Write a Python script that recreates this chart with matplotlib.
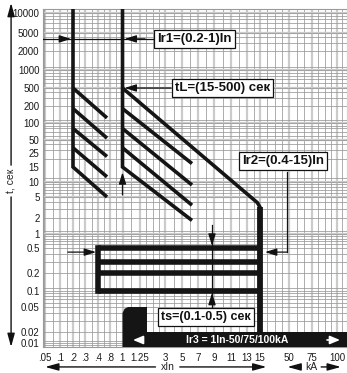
import numpy as np
import matplotlib
matplotlib.use('Agg')
import matplotlib.pyplot as plt

plt.rcParams['font.family'] = ['Liberation Sans', 'DejaVu Sans']

# printed scale of the chart: label values and where they sit (px from the axis origin)
x_vals = [0.04, .05, .1, .2, .3, .4, .8, 1, 1.25, 3, 5, 7, 9, 11, 13, 15, 50, 75, 100, 110]
x_pos = [0, 2, 17, 30, 42, 55, 67, 79.5, 97, 122, 139, 155, 171, 188, 204, 217, 246, 269, 294, 304]
x_labels = ['.05', '.1', '.2', '.3', '.4', '.8', '1', '1.25', '3', '5', '7', '9',
            '11', '13', '15', '50', '75', '100']
y_vals = [0.008, 0.01, 0.02, 0.05, 0.1, 0.2, 0.5, 1, 2, 5, 10, 15, 25, 50, 100,
          200, 500, 1000, 2000, 5000, 10000, 12000]
y_pos = [0, 4, 15, 40, 56, 74, 99, 113, 129, 150, 165, 180, 194, 207, 224, 241,
         259, 277, 296, 314, 334, 338]
y_labels = ['0.01', '0.02', '0.05', '0.1', '0.2', '0.5', '1', '2', '5', '10', '15',
            '25', '50', '100', '200', '500', '1000', '2000', '5000', '10000']

# long-time protection (tL settings), start t on Ir1 lines and end t of each diagonal
ir1_min, ir1_max = 0.2, 1
tl_start = [500, 180, 80, 33, 15]
left_end_x = 0.7
left_end_t = [123, 54, 22, 11.5, 5]
right_end_x = 6.25
right_end_t = [17, 8.7, 3.5, 1.8]          # for tl_start[1:]
top_diag = ([1, 14.6, 15], [500, 3.9, 3.2])

# short-time protection
ir2_min, ir2_max = 0.4, 15
ts_bands = [0.5, 0.3, 0.2, 0.1]

# instantaneous
ir3_x = [1, 1, 1.03, 1.08, 1.74, 1.74, 110, 110]
ir3_t = [0.008, 0.04, 0.047, 0.05, 0.05, 0.02, 0.02, 0.008]

def fx(v):
    return np.interp(v, x_vals, x_pos)

def fx_inv(p):
    return np.interp(p, x_pos, x_vals)

ly = np.log10(y_vals)

def fy(t):
    t = np.clip(np.asarray(t, dtype=float), 1e-6, None)
    return np.interp(np.log10(t), ly, y_pos)

def fy_inv(p):
    return 10 ** np.interp(p, y_pos, ly)

fig = plt.figure(figsize=(3.47, 3.73), dpi=100)
ax = fig.add_axes([43 / 347, 26 / 373, 304 / 347, 338 / 373])
ax.set_xscale('function', functions=(fx, fx_inv))
ax.set_yscale('function', functions=(fy, fy_inv))
ax.set_xlim(x_vals[0], x_vals[-1])
ax.set_ylim(y_vals[0], y_vals[-1])
ytop = y_vals[-1]

# grid
xt = x_vals[1:-1]
xminor = []
for i in range(len(x_vals) - 1):
    a, b = x_vals[i], x_vals[i + 1]
    n = max(1, int(round((x_pos[i + 1] - x_pos[i]) / 7.0)) - 1)
    for k in range(1, n + 1):
        xminor.append(a + (b - a) * k / (n + 1))
ax.vlines(xt, 0, 1, transform=ax.get_xaxis_transform(), colors='#cbcbcb', lw=1.6, zorder=0)
ax.vlines(xminor, 0, 1, transform=ax.get_xaxis_transform(), colors='#979797', lw=0.55, zorder=0)
ygrid = [k * 10.0 ** n for n in range(-3, 4) for k in range(1, 10)] + [10000]
ygrid = [g for g in ygrid if 0.008 < g <= 10000]
ymajor = [g for g in ygrid if str(g)[0] in '15']
ax.hlines(ymajor, 0, 1, transform=ax.get_yaxis_transform(), colors='#cbcbcb', lw=1.6, zorder=0)
ax.hlines(ygrid, 0, 1, transform=ax.get_yaxis_transform(), colors='#979797', lw=0.55, zorder=0)
ax.hlines([10.0 ** n * 1.12 for n in range(-2, 4)], 0, 1, transform=ax.get_yaxis_transform(),
          colors='#979797', lw=0.55, zorder=0)

k = '#151515'
lkw = dict(color=k, lw=2.6, solid_capstyle='butt', solid_joinstyle='miter', zorder=3)

# long-time curves
ax.plot([ir1_min, ir1_min, left_end_x], [ytop, tl_start[-1], left_end_t[-1]], **lkw)
for s, e in zip(tl_start[:-1], left_end_t[:-1]):
    ax.plot([ir1_min, left_end_x], [s, e], **lkw)
ax.plot([ir1_max, ir1_max, right_end_x], [ytop, tl_start[-1], right_end_t[-1]], **lkw)
for s, e in zip(tl_start[1:-1], right_end_t[:-1]):
    ax.plot([ir1_max, right_end_x], [s, e], **lkw)
ax.plot(top_diag[0] + [ir2_max], top_diag[1] + [0.02], **lkw)
ax.plot([ir2_max, ir2_max], [top_diag[1][-1], 0.02], color=k, lw=4.2,
        solid_capstyle='butt', zorder=3)

# short-time bands
for t in ts_bands:
    ax.plot([ir2_min, ir2_max], [t, t], color=k, lw=4.0, solid_capstyle='butt', zorder=3)
ax.plot([ir2_min, ir2_min], [ts_bands[-1], ts_bands[0]], color=k, lw=4.0,
        solid_capstyle='projecting', zorder=3)

# instantaneous
ax.fill(ir3_x, ir3_t, color=k, lw=0, zorder=3)
ax.text(11.75, 0.0121, 'Ir3 = 1In-50/75/100kA', color='white', fontsize=7.5,
        fontweight='bold', ha='center', va='center', zorder=5)

def arrow(p0, p1, color='#111', lw=0.9, hl=0.7, hw=0.22, coords='data'):
    ax.annotate('', xy=p1, xytext=p0, xycoords=coords, textcoords=coords,
                annotation_clip=False,
                arrowprops=dict(arrowstyle='-|>,head_length=%s,head_width=%s' % (hl, hw),
                                color=color, lw=lw, shrinkA=0, shrinkB=0))

wkw = dict(color='white', lw=1.2, hl=0.6, hw=0.25)
arrow((1.46, 0.0121), (1.15, 0.0121), **wkw)
arrow((90, 0.0121), (103, 0.0121), **wkw)

# labels in boxes
bkw = dict(fontsize=9.5, fontweight='bold', color='#111', ha='left', va='center', zorder=6,
           bbox=dict(boxstyle='square,pad=0.25', fc='white', ec='#111', lw=0.9))
ax.text(2.44, 3700, 'Ir1=(0.2-1)In', **bkw)
ax.plot([0.041, 2.16], [3700, 3700], color='#111', lw=0.9, zorder=4)
arrow((0.12, 3700), (0.185, 3700))
arrow((1.6, 3700), (1.03, 3700))

ax.text(4.18, 500, 'tL=(15-500) сек', **bkw)
arrow((3.71, 500), (1.03, 500))
arrow((1, 5.5), (1, 13))

ax.text(12.4, 18.7, 'Ir2=(0.4-15)In', **bkw)
ax.plot([47.5, 47.5], [13.1, 0.43], color='#111', lw=0.9, zorder=4)
arrow((47.6, 0.43), (21, 0.43))
arrow((0.16, 0.43), (0.385, 0.43))

tkw = dict(bkw, fontsize=9)
ax.text(2.72, 0.035, 'ts=(0.1-0.5) сек', **tkw)
ax.plot([8.75, 8.75], [1.45, 0.048], color='#111', lw=0.9, zorder=4)
arrow((8.75, 0.9), (8.75, 0.56))
arrow((8.75, 0.06), (8.75, 0.092))

# ticks
ax.set_xticks(xt)
ax.set_xticklabels(x_labels)
ax.set_yticks(y_vals[1:-1])
ax.set_yticklabels(y_labels)
ax.minorticks_off()
ax.tick_params(length=0, labelsize=7, labelcolor='#1a1a1a')
ax.tick_params(axis='x', pad=4)
ax.tick_params(axis='y', pad=2.5)
for sp in ax.spines.values():
    sp.set_color('#9a9a9a')
    sp.set_linewidth(0.8)

# outside axis arrows
big = dict(color='#111', lw=1.0, hl=0.8, hw=0.22, coords='axes fraction')
arrow((-0.105, 0.538), (-0.105, 1.018), **big)
arrow((-0.105, 0.444), (-0.105, 0.0), **big)
ax.text(-0.105, 0.491, 't, сек', rotation=90, fontsize=7.5, color='#222',
        ha='center', va='center', transform=ax.transAxes)
arrow((0.37, -0.059), (0.007, -0.059), **big)
arrow((0.45, -0.059), (0.735, -0.059), **big)
ax.text(0.411, -0.059, 'xIn', fontsize=7.5, color='#222', ha='center', va='center',
        transform=ax.transAxes)
arrow((0.849, -0.059), (0.804, -0.059), **big)
arrow((0.915, -0.059), (0.98, -0.059), **big)
ax.text(0.882, -0.059, 'kA', fontsize=7.5, color='#222', ha='center', va='center',
        transform=ax.transAxes)

fig.savefig('out.png', dpi=100)
